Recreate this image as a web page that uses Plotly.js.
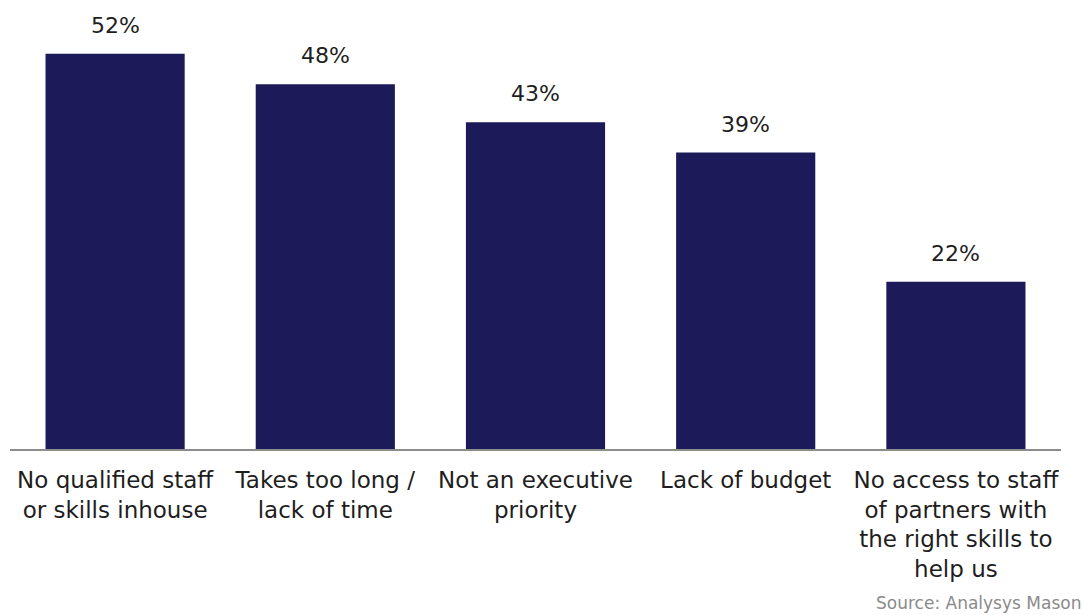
<!DOCTYPE html>
<html>
<head>
<meta charset="utf-8">
<script src="https://cdn.plot.ly/plotly-3.0.1.min.js"></script>
<style>html,body{margin:0;padding:0;background:#fff;}#chart{width:1083px;height:615px;}</style>
</head>
<body>
<div id="chart"></div>
<script>
const categories = [
  "No qualified staff<br>or skills inhouse",
  "Takes too long /<br>lack of time",
  "Not an executive<br>priority",
  "Lack of budget",
  "No access to staff<br>of partners with<br>the right skills to<br>help us"
];
const values = [52, 48, 43, 39, 22];
const valueLabels = ["52%", "48%", "43%", "39%", "22%"];

const FONT = "DejaVu Sans, Liberation Sans, sans-serif";
const trace = {
  type: "bar",
  x: categories,
  y: values,
  width: 0.662,
  marker: {color: "#1c1a59"},
  hoverinfo: "none"
};
const annotations = categories.map((c, i) => ({
  x: c, y: values[i], xref: "x", yref: "y",
  text: valueLabels[i], showarrow: false,
  yanchor: "bottom", yshift: 14,
  font: {family: FONT, size: 22, color: "#1e1e1e"}
}));
annotations.push({
  xref: "paper", yref: "paper", x: 1.021, y: 0, yshift: -166,
  xanchor: "right", yanchor: "bottom",
  text: "Source: Analysys Mason", showarrow: false,
  font: {family: FONT, size: 17, color: "#8a8a8a"}
});
const layout = {
  width: 1083, height: 615,
  margin: {l: 10, r: 22, t: 30, b: 166},
  paper_bgcolor: "#fff", plot_bgcolor: "#fff",
  showlegend: false,
  font: {family: FONT, size: 22, color: "#1e1e1e"},
  xaxis: {
    type: "category",
    showline: true, linecolor: "#8c8c8c", linewidth: 2,
    ticks: "", showgrid: false, zeroline: false,
    tickfont: {family: FONT, size: 23, color: "#1e1e1e"},
    ticklabelstandoff: 9
  },
  yaxis: {
    range: [0, 55.13], visible: false, showgrid: false, zeroline: false
  },
  annotations: annotations
};
Plotly.newPlot("chart", [trace], layout, {displayModeBar: false, staticPlot: true});
</script>
</body>
</html>
